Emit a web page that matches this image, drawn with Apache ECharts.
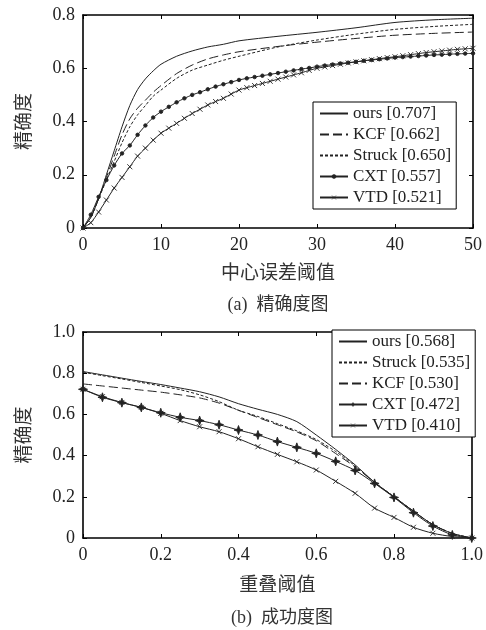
<!DOCTYPE html>
<html>
<head>
<meta charset="utf-8">
<script src="https://cdn.jsdelivr.net/npm/echarts@6/dist/echarts.min.js"></script>
<style>html,body{margin:0;padding:0;background:#fff;}#c{width:486px;height:630px;}</style>
</head>
<body>
<div id="c"></div>
<script>
// ---------- (a) precision plot ----------
const precNames = ['ours [0.707]', 'KCF [0.662]', 'Struck [0.650]', 'CXT [0.557]', 'VTD [0.521]'];
const precX = [0,1,2,3,4,5,6,7,8,9,10,12,14,16,18,20,25,30,35,40,45,50];
const precOurs   = [0,0.04,0.11,0.20,0.29,0.38,0.46,0.52,0.56,0.59,0.615,0.645,0.665,0.68,0.69,0.703,0.72,0.735,0.752,0.772,0.782,0.788];
const precKCF    = [0,0.04,0.11,0.19,0.27,0.35,0.41,0.45,0.48,0.51,0.535,0.58,0.612,0.635,0.65,0.662,0.682,0.698,0.712,0.724,0.731,0.736];
const precStruck = [0,0.04,0.11,0.18,0.25,0.32,0.38,0.425,0.46,0.495,0.518,0.562,0.593,0.612,0.63,0.645,0.68,0.706,0.728,0.746,0.757,0.765];
const precXFine = [0,1,2,3,4,5,6,7,8,9,10,11,12,13,14,15,16,17,18,19,20,21,22,23,24,25,26,27,28,29,30,31,32,33,34,35,36,37,38,39,40,41,42,43,44,45,46,47,48,49,50];
const precCXT = [0,0.05,0.117,0.18,0.235,0.28,0.31,0.35,0.385,0.415,0.437,0.455,0.472,0.487,0.5,0.51,0.521,0.531,0.54,0.548,0.556,
  0.562,0.567,0.572,0.577,0.582,0.587,0.592,0.597,0.601,0.606,0.61,0.614,0.618,0.621,0.624,0.628,0.631,0.634,0.637,0.64,
  0.642,0.644,0.646,0.648,0.65,0.651,0.653,0.654,0.655,0.656];
const precVTD = [0,0.02,0.06,0.105,0.15,0.19,0.23,0.27,0.30,0.33,0.356,0.375,0.393,0.412,0.43,0.446,0.462,0.475,0.487,0.503,0.518,
  0.527,0.535,0.543,0.551,0.559,0.567,0.575,0.583,0.592,0.60,0.605,0.61,0.615,0.62,0.624,0.628,0.632,0.636,0.64,0.643,
  0.647,0.651,0.655,0.659,0.662,0.665,0.668,0.671,0.673,0.675];
const precXTicks = [0,10,20,30,40,50];
const precYTicks = [0,0.2,0.4,0.6,0.8];

// ---------- (b) success plot ----------
const succNames = ['ours [0.568]', 'Struck [0.535]', 'KCF [0.530]', 'CXT [0.472]', 'VTD [0.410]'];
const succX = [0,0.05,0.1,0.15,0.2,0.25,0.3,0.35,0.4,0.45,0.5,0.55,0.6,0.65,0.7,0.75,0.8,0.85,0.9,0.95,1.0];
const succOurs   = [0.808,0.792,0.776,0.76,0.745,0.728,0.71,0.685,0.652,0.625,0.60,0.565,0.50,0.43,0.355,0.27,0.20,0.13,0.065,0.022,0];
const succStruck = [0.805,0.788,0.772,0.755,0.738,0.72,0.695,0.662,0.62,0.59,0.555,0.52,0.478,0.42,0.35,0.27,0.20,0.13,0.065,0.022,0];
const succKCF    = [0.748,0.738,0.728,0.718,0.708,0.695,0.68,0.655,0.62,0.585,0.55,0.515,0.472,0.41,0.345,0.27,0.20,0.13,0.065,0.022,0];
const succCXT    = [0.722,0.683,0.657,0.634,0.608,0.586,0.57,0.55,0.524,0.50,0.468,0.44,0.411,0.372,0.328,0.265,0.197,0.123,0.058,0.015,0];
const succVTD    = [0.722,0.686,0.658,0.634,0.605,0.57,0.54,0.516,0.482,0.443,0.406,0.37,0.33,0.275,0.217,0.145,0.10,0.052,0.023,0.007,0];
const succXTicks = [0,0.2,0.4,0.6,0.8,1.0];
const succYTicks = [0,0.2,0.4,0.6,0.8,1.0];

const SERIF = '"Liberation Serif", "Times New Roman", serif';
const CJK = '"Noto Sans CJK SC", sans-serif';
const INK = '#222';

function pairs(xs, ys) { return xs.map((x, i) => [x, ys[i]]); }
function fmt(dec) {
  return v => (Math.abs(v) < 1e-9 ? '0' : (dec ? Number(v).toFixed(dec) : String(v)));
}
function axisX(gridIndex, ticks, isMirror, name, gap, dec) {
  return {
    type: 'value', gridIndex: gridIndex, position: isMirror ? 'top' : 'bottom',
    min: ticks[0], max: ticks[ticks.length - 1], interval: ticks[1] - ticks[0],
    name: isMirror ? '' : name, nameLocation: 'middle', nameGap: gap,
    nameTextStyle: { fontFamily: CJK, fontSize: 19, color: '#333' },
    axisLine: { show: true, onZero: false, lineStyle: { color: '#000', width: 1.6 } },
    axisTick: { show: true, inside: true, length: 4, lineStyle: { color: '#000', width: 1 } },
    axisLabel: { show: !isMirror, margin: 8, fontFamily: SERIF, fontSize: 18, color: INK, formatter: fmt(dec) },
    splitLine: { show: false }
  };
}
function axisY(gridIndex, ticks, isMirror, name, gap, dec) {
  return {
    type: 'value', gridIndex: gridIndex, position: isMirror ? 'right' : 'left',
    min: ticks[0], max: ticks[ticks.length - 1], interval: ticks[1] - ticks[0],
    name: isMirror ? '' : name, nameLocation: 'middle', nameGap: gap, nameRotate: 90,
    nameTextStyle: { fontFamily: CJK, fontSize: 19, color: '#333' },
    axisLine: { show: true, onZero: false, lineStyle: { color: '#000', width: 1.6 } },
    axisTick: { show: true, inside: true, length: 4, lineStyle: { color: '#000', width: 1 } },
    axisLabel: { show: !isMirror, margin: 8, fontFamily: SERIF, fontSize: 18, color: INK, formatter: fmt(dec) },
    splitLine: { show: false }
  };
}

const XMARK = 'path://M0,0L10,10M10,0L0,10';
const STAR = 'path://M5,0L6.3,3.7L10,5L6.3,6.3L5,10L3.7,6.3L0,5L3.7,3.7Z';

function lineSeries(name, xi, yi, data, type, symbol, symbolSize) {
  return {
    name: name, type: 'line', xAxisIndex: xi, yAxisIndex: yi, data: data,
    smooth: 0.25, animation: false, clip: true,
    symbol: symbol || 'none', symbolSize: symbolSize || 4, showSymbol: !!symbol,
    lineStyle: { color: INK, width: 1, type: type || 'solid' },
    itemStyle: { color: INK, borderColor: INK, borderWidth: 0.9 },
    emphasis: { disabled: true }
  };
}

// names whose legend icon shows a marker
function legend(names, markerIdx, left, top) {
  return {
    data: names.map((n, i) => markerIdx.indexOf(i) >= 0
      ? { name: n, itemStyle: { borderWidth: 0.6 } }
      : { name: n, itemStyle: { opacity: 0 } }),
    orient: 'vertical', left: left, top: top,
    backgroundColor: '#fff', borderColor: '#000', borderWidth: 1,
    padding: [3, 5, 3, 6], itemGap: 4, itemWidth: 28, itemHeight: 5,
    selectedMode: false,
    textStyle: { fontFamily: SERIF, fontSize: 17, color: INK }
  };
}

const option = {
  animation: false,
  backgroundColor: '#fff',
  title: [
    { text: '(a)  精确度图', left: 273, top: 291, textAlign: 'center',
      textStyle: { fontFamily: SERIF + ', ' + CJK, fontSize: 18, fontWeight: 'normal', color: '#333' } },
    { text: '(b)  成功度图', left: 277, top: 604, textAlign: 'center',
      textStyle: { fontFamily: SERIF + ', ' + CJK, fontSize: 18, fontWeight: 'normal', color: '#333' } }
  ],
  grid: [
    { left: 83, right: 13, top: 15, bottom: 402 },
    { left: 83, right: 10, top: 332, bottom: 92 }
  ],
  xAxis: [
    axisX(0, precXTicks, false, '中心误差阈值', 34, 0),
    axisX(0, precXTicks, true, '', 0, 0),
    axisX(1, succXTicks, false, '重叠阈值', 36, 1),
    axisX(1, succXTicks, true, '', 0, 1)
  ],
  yAxis: [
    axisY(0, precYTicks, false, '精确度', 51, 1),
    axisY(0, precYTicks, true, '', 0, 1),
    axisY(1, succYTicks, false, '精确度', 51, 1),
    axisY(1, succYTicks, true, '', 0, 1)
  ],
  legend: [
    legend(precNames, [3, 4], 313, 102),
    legend(succNames, [3, 4], 332, 330)
  ],
  series: [
    lineSeries(precNames[0], 0, 0, pairs(precX, precOurs), 'solid'),
    lineSeries(precNames[1], 0, 0, pairs(precX, precKCF), [9, 4]),
    lineSeries(precNames[2], 0, 0, pairs(precX, precStruck), [3, 2]),
    lineSeries(precNames[3], 0, 0, pairs(precXFine, precCXT), 'solid', 'circle', 3.5),
    lineSeries(precNames[4], 0, 0, pairs(precXFine, precVTD), 'solid', XMARK, 5),
    lineSeries(succNames[0], 2, 2, pairs(succX, succOurs), 'solid'),
    lineSeries(succNames[1], 2, 2, pairs(succX, succStruck), [3, 2]),
    lineSeries(succNames[2], 2, 2, pairs(succX, succKCF), [9, 4]),
    lineSeries(succNames[3], 2, 2, pairs(succX, succCXT), 'solid', STAR, 9),
    lineSeries(succNames[4], 2, 2, pairs(succX, succVTD), 'solid', XMARK, 5)
  ]
};

const chart = echarts.init(document.getElementById('c'), null, { renderer: 'canvas' });
chart.setOption(option);
</script>
</body>
</html>
